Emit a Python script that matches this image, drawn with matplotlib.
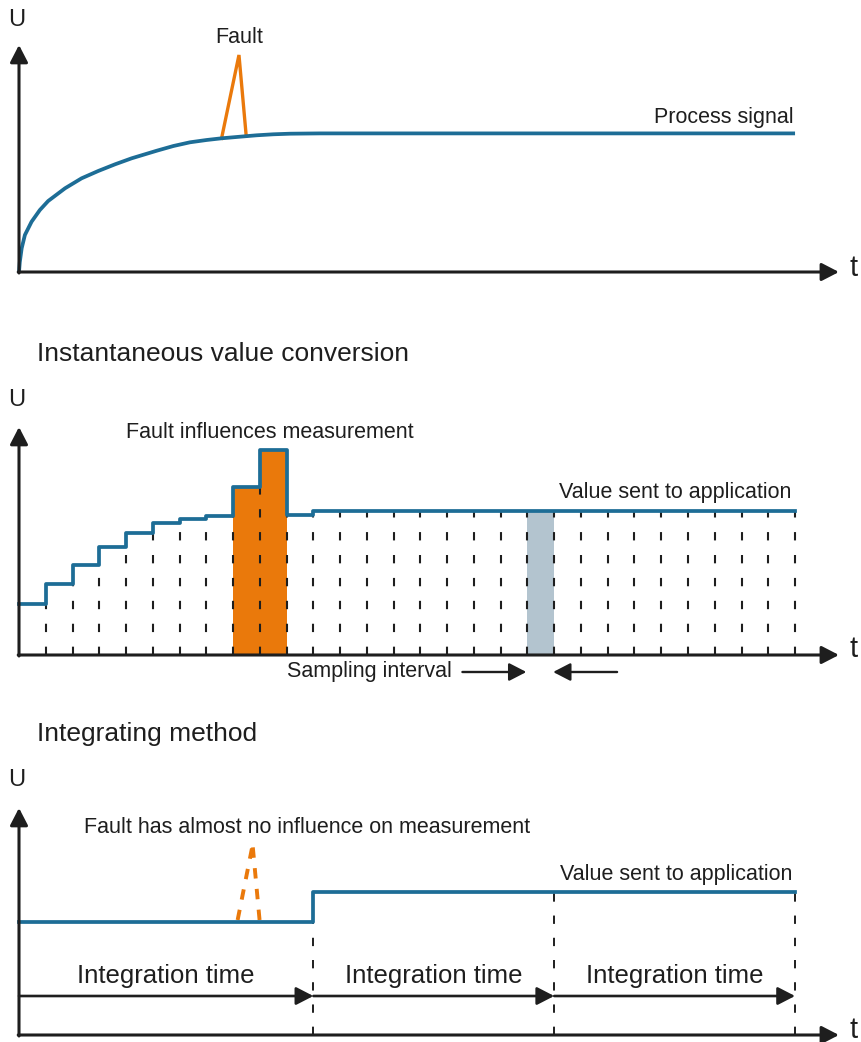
import numpy as np
import matplotlib.pyplot as plt
import matplotlib

matplotlib.rc('font', family='Liberation Sans', size=15.5)
matplotlib.rcParams['lines.scale_dashes'] = False

BLUE = '#1d6d96'
ORANGE = '#ea790b'
GREY = '#b3c4cf'
INK = '#1e1e1e'

# time is counted in sampling intervals, U in arbitrary units
signal_t = [0, 0.03, 0.10, 0.22, 0.47, 0.78, 1.09, 1.72, 2.34, 2.96, 3.59, 4.21,
            5.15, 5.77, 6.39, 7.01, 7.57, 8.26, 8.88, 9.50, 10.13, 11.25, 29]
signal_u = [0, 10, 23.7, 37, 50.3, 62, 71, 83.7, 93.7, 101, 107.7, 113.7,
            121.3, 126, 129.7, 132, 133.7, 135.3, 136.7, 137.7, 138.3, 138.6, 138.6]
fault_t = [7.57, 8.22, 8.49]
fault_u = [133.7, 217, 136.2]

# instantaneous value conversion: one value per sampling interval
sample_u = [51, 71, 90, 108, 122, 132, 136, 139, 168, 205, 140,
            144, 144, 144, 144, 144, 144, 144, 144, 144, 144, 144,
            144, 144, 144, 144, 144, 144, 144]
faulty_samples = [8, 9]
marked_sample = [19]
interval_arrow_right = [16.57, 18.96]
interval_arrow_left = [22.35, 19.96]

# integrating method
integ_edges = [0, 11, 20, 29]
integ_u = [113, 143, 143]
fault2_t = [8.17, 8.73, 8.99]
fault2_u = [115, 190, 115]

PX = 26.76  # reference pixels per sampling interval
XLIM = (-19 / PX, (862 - 19) / PX)


def draw_axes(ax, ytip, tlabel_y, ulabel_y):
    kw = dict(arrowstyle='-|>,head_length=0.58,head_width=0.3', color=INK,
              lw=2.2, shrinkA=0, shrinkB=0, mutation_scale=18)
    ax.annotate('', xy=(30.64, 0), xytext=(-0.03, 0), arrowprops=kw)
    ax.annotate('', xy=(0, ytip), xytext=(0, -1), arrowprops=kw)
    ax.text(31.2, tlabel_y, 't', fontsize=21, ha='center', va='center', color=INK)
    ax.text(-0.07, ulabel_y, 'U', fontsize=17, ha='center', va='center', color=INK)


fig = plt.figure(figsize=(8.62, 10.42), dpi=100)
H = 1042.0
ax1 = fig.add_axes([0, (H - 300) / H, 1, 300 / H])
ax2 = fig.add_axes([0, (H - 700) / H, 1, 400 / H])
ax3 = fig.add_axes([0, 0, 1, 342 / H])
for ax in (ax1, ax2, ax3):
    ax.set_xlim(*XLIM)
    ax.axis('off')
ax1.set_ylim(-28, 272)
ax2.set_ylim(-45, 355)
ax3.set_ylim(-7, 335)

#---- process signal
ax1.plot(fault_t, fault_u, color=ORANGE, lw=2.4, solid_joinstyle='miter')
ax1.plot(signal_t, signal_u, color=BLUE, lw=2.7, solid_capstyle='butt')
ax1.text(fault_t[1], 229, 'Fault', ha='center', va='baseline', color=INK)
ax1.text(28.96, 149, 'Process signal', ha='right', va='baseline', color=INK)
draw_axes(ax1, 227, 4, 252)

#---- instantaneous value conversion
edges = np.arange(len(sample_u) + 1)
ax2.bar(faulty_samples, [sample_u[i] for i in faulty_samples], width=1,
        align='edge', color=ORANGE, zorder=1)
ax2.bar(marked_sample, [sample_u[i] for i in marked_sample], width=1,
        align='edge', color=GREY, zorder=1)
tops = [min(sample_u[i - 1], sample_u[i]) for i in range(1, len(sample_u))] + [sample_u[-1]]
ax2.vlines(edges[1:], 0, tops, colors=INK, lw=1.5, linestyles=[(0, (6, 10.5))], zorder=2)
ax2.step(edges, sample_u + [sample_u[-1]], where='post', color=BLUE, lw=2.7, zorder=3)
ax2.text(0.67, 294, 'Instantaneous value conversion', fontsize=19, ha='left',
         va='baseline', color=INK)
ax2.text(9.38, 217, 'Fault influences measurement', ha='center', va='baseline', color=INK)
ax2.text(28.85, 157, 'Value sent to application', ha='right', va='baseline', color=INK)
ax2.text(13.1, -22, 'Sampling interval', ha='center', va='baseline', color=INK)
akw = dict(arrowstyle='-|>,head_length=0.62,head_width=0.32', color=INK, lw=1.7,
           shrinkA=0, shrinkB=0, mutation_scale=17)
ax2.annotate('', xy=(interval_arrow_right[1], -17), xytext=(interval_arrow_right[0], -17), arrowprops=akw)
ax2.annotate('', xy=(interval_arrow_left[1], -17), xytext=(interval_arrow_left[0], -17), arrowprops=akw)
draw_axes(ax2, 228, 6, 255)

#---- integrating method
ax3.plot(fault2_t[:2], fault2_u[:2], color=ORANGE, lw=2.8, ls=(0, (7.5, 7.5)))
ax3.plot(fault2_t[:0:-1], fault2_u[:0:-1], color=ORANGE, lw=2.8, ls=(0, (7.5, 7.5)))
itops = [min(integ_u[i - 1], integ_u[i]) for i in range(1, len(integ_u))] + [integ_u[-1]]
ax3.vlines(integ_edges[1:], 0, itops, colors=INK, lw=1.4, linestyles=[(0, (6, 10))], zorder=2)
ax3.step(integ_edges, integ_u + [integ_u[-1]], where='post', color=BLUE, lw=2.7, zorder=3)
ikw = dict(arrowstyle='-|>,head_length=0.62,head_width=0.32', color=INK, lw=1.9,
           shrinkA=0, shrinkB=0, mutation_scale=17)
for a, b in zip(integ_edges[:-1], integ_edges[1:]):
    ax3.annotate('', xy=(b, 39), xytext=(a, 39), arrowprops=ikw)
    ax3.text((a + b) / 2, 52, 'Integration time', fontsize=18.5, ha='center',
             va='baseline', color=INK)
ax3.text(0.67, 294, 'Integrating method', fontsize=19, ha='left', va='baseline', color=INK)
ax3.text(10.76, 202, 'Fault has almost no influence on measurement', ha='center',
         va='baseline', color=INK)
ax3.text(28.9, 155, 'Value sent to application', ha='right', va='baseline', color=INK)
draw_axes(ax3, 227, 5, 255)

fig.savefig('out.png', dpi=100)
